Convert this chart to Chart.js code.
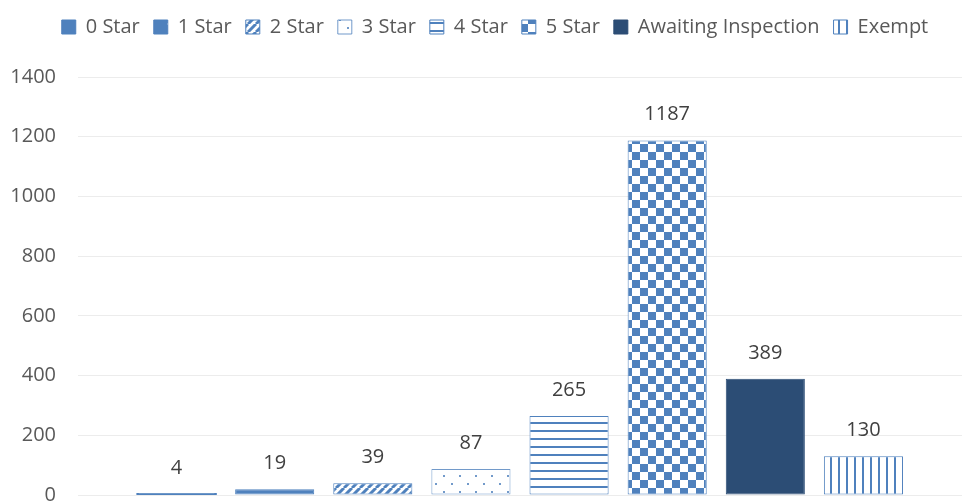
<!DOCTYPE html>
<html>
<head>
<meta charset="utf-8">
<script src="https://cdn.jsdelivr.net/npm/chart.js@4/dist/chart.umd.min.js"></script>
<style>
  html, body { margin: 0; padding: 0; background: #fff; overflow: hidden; }
  #wrap { width: 962px; height: 540px; position: relative; }
</style>
</head>
<body>
<div id="wrap"><canvas id="chart"></canvas></div>
<script>
// Datos
const categories = [''];
const seriesNames = ['0 Star', '1 Star', '2 Star', '3 Star', '4 Star', '5 Star', 'Awaiting Inspection', 'Exempt'];
const seriesValues = [4, 19, 39, 87, 265, 1187, 389, 130];
const yTicks = [0, 200, 400, 600, 800, 1000, 1200, 1400];

const BLUE = '#4f81bd';
const DARK = '#2c4d75';

function makePattern(kind) {
    const c = document.createElement('canvas');
    const ctx = c.getContext('2d');
    let s = 8;
    if (kind === 'dotsWhite' || kind === 'dotsBlue' || kind === 'checker') s = 16;
    c.width = s; c.height = s;
    if (kind === 'dotsWhite') {
        ctx.fillStyle = BLUE; ctx.fillRect(0, 0, s, s);
        ctx.fillStyle = '#fff'; ctx.fillRect(7, 7, 2, 2);
    } else if (kind === 'diag') {
        ctx.fillStyle = '#fff'; ctx.fillRect(0, 0, s, s);
        ctx.strokeStyle = BLUE; ctx.lineWidth = 3;
        ctx.beginPath();
        for (let k = -1; k <= 1; k++) {
            ctx.moveTo(k * s, s);
            ctx.lineTo(k * s + s, 0);
        }
        ctx.stroke();
    } else if (kind === 'dotsBlue') {
        ctx.fillStyle = '#fff'; ctx.fillRect(0, 0, s, s);
        ctx.fillStyle = 'rgba(79,129,189,0.8)';
        ctx.fillRect(3, 3, 2, 2);
        ctx.fillRect(11, 11, 2, 2);
    } else if (kind === 'hlines') {
        ctx.fillStyle = '#fff'; ctx.fillRect(0, 0, s, s);
        ctx.fillStyle = BLUE; ctx.fillRect(0, 6, s, 2);
    } else if (kind === 'vlines') {
        ctx.fillStyle = '#fff'; ctx.fillRect(0, 0, s, s);
        ctx.fillStyle = BLUE; ctx.fillRect(6, 0, 2, s);
    } else if (kind === 'checker') {
        ctx.fillStyle = '#fff'; ctx.fillRect(0, 0, s, s);
        ctx.fillStyle = BLUE;
        ctx.fillRect(0, 0, 8, 8);
        ctx.fillRect(8, 8, 8, 8);
    }
    return ctx.createPattern(c, 'repeat');
}

const fills = [
    BLUE,
    makePattern('dotsWhite'),
    makePattern('diag'),
    makePattern('dotsBlue'),
    makePattern('hlines'),
    makePattern('checker'),
    DARK,
    makePattern('vlines')
];
const borders = [BLUE, BLUE, BLUE, 'rgba(79,129,189,0.8)', BLUE, BLUE, DARK, BLUE];

const datasets = seriesNames.map((name, i) => ({
    label: name,
    data: [seriesValues[i]],
    backgroundColor: fills[i],
    borderColor: borders[i],
    borderWidth: 1,
    borderSkipped: false,
    inflateAmount: i === 0 ? 0.8 : 'auto',
    categoryPercentage: 0.888,
    barPercentage: 0.806
}));

// Etiquetas de valores sobre cada barra
const valueLabels = {
    id: 'valueLabels',
    afterDatasetsDraw(chart) {
        const ctx = chart.ctx;
        ctx.save();
        ctx.font = '20px "Open Sans"';
        ctx.fillStyle = '#404040';
        ctx.textAlign = 'center';
        ctx.textBaseline = 'middle';
        chart.data.datasets.forEach((ds, i) => {
            const meta = chart.getDatasetMeta(i);
            meta.data.forEach((bar, j) => {
                ctx.fillText(String(ds.data[j]), bar.x, bar.y - 26);
            });
        });
        ctx.restore();
    }
};

// Espacio extra bajo la leyenda y desplazamiento a la derecha
const legendSpace = {
    id: 'legendSpace',
    beforeInit(chart) {
        const fit = chart.legend.fit;
        chart.legend.fit = function () {
            fit.bind(chart.legend)();
            this.height += 30;
        };
    },
    afterLayout(chart) {
        chart.legend.left += 10;
        chart.legend.right += 10;
    }
};

new Chart(document.getElementById('chart'), {
    type: 'bar',
    data: { labels: categories, datasets: datasets },
    plugins: [valueLabels, legendSpace],
    options: {
        responsive: true,
        maintainAspectRatio: false,
        animation: false,
        layout: { padding: { left: 8, right: 0, top: 3, bottom: 45 } },
        scales: {
            x: { display: false },
            y: {
                min: 0,
                max: 1400,
                afterBuildTicks: (axis) => { axis.ticks = yTicks.map(v => ({ value: v })); },
                afterFit: (axis) => { axis.width = 70; },
                grid: { color: '#ececec', lineWidth: 1, drawTicks: false },
                border: { display: false },
                ticks: {
                    color: '#595959',
                    font: { family: 'Open Sans', size: 20 },
                    padding: 22,
                    callback: (v) => String(v)
                }
            }
        },
        plugins: {
            legend: {
                position: 'top',
                labels: {
                    color: '#595959',
                    font: { family: 'Open Sans', size: 20 },
                    boxWidth: 14,
                    boxHeight: 14,
                    padding: 14
                }
            },
            tooltip: { enabled: false }
        }
    }
});
</script>
</body>
</html>
